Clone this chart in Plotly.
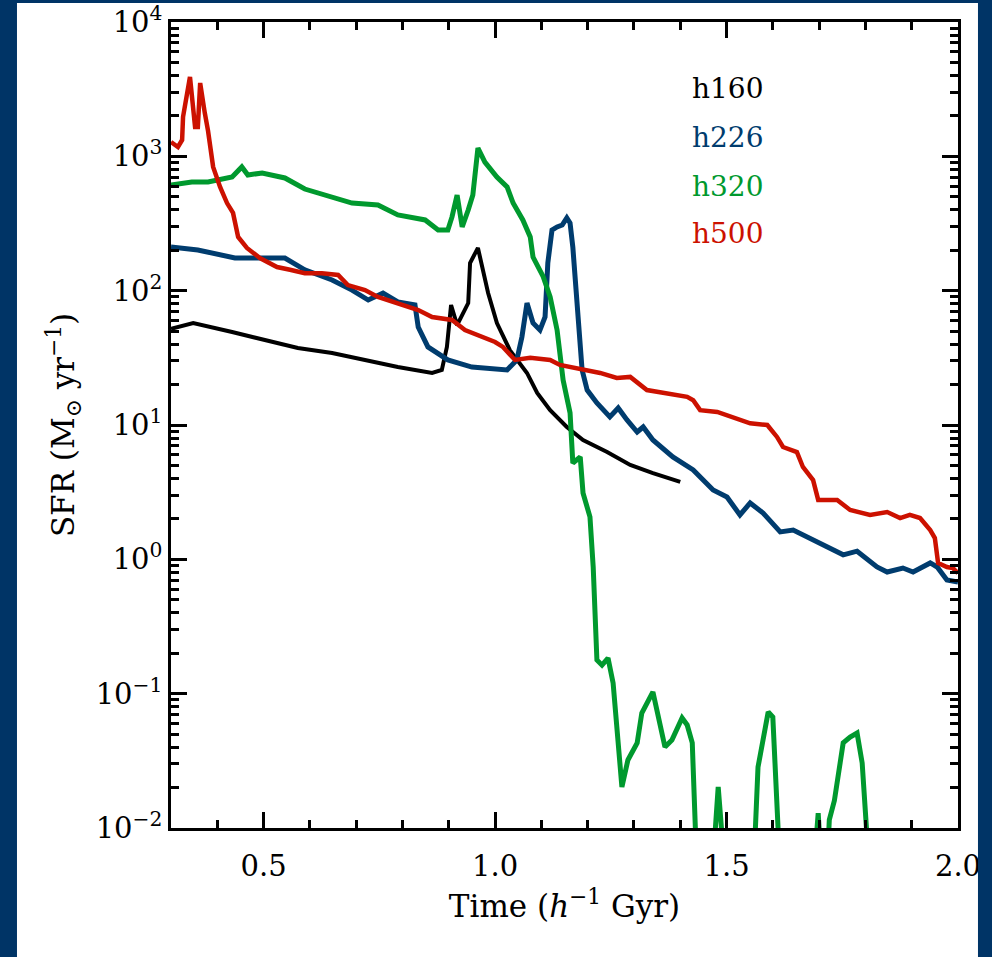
import plotly.graph_objects as go

# Star formation histories of four haloes
names = ["h160", "h226", "h320", "h500"]
colors = ["#000000", "#003c6e", "#00992e", "#cc1100"]
widths = [4, 5, 5, 4.5]

t_h160 = [0.300, 0.348, 0.432, 0.503, 0.574, 0.648, 0.719, 0.790, 0.864, 0.885,
          0.896, 0.905, 0.918, 0.942, 0.946, 0.963, 0.985, 1.004, 1.032, 1.069,
          1.091, 1.119, 1.155, 1.190, 1.242, 1.292, 1.341, 1.400]
sfr_h160 = [51.9, 57.4, 49.2, 43.0, 37.4, 34.4, 30.5, 27.0, 24.4, 25.7,
            38.1, 78.2, 55.4, 80.9, 160.7, 208, 96.1, 57.4, 36.1, 24.4,
            17.3, 12.9, 9.66, 7.73, 6.29, 5.04, 4.39, 3.77]

t_h226 = [0.300, 0.358, 0.438, 0.503, 0.546, 0.589, 0.648, 0.691, 0.726, 0.758,
          0.790, 0.827, 0.834, 0.855, 0.898, 0.950, 1.000, 1.026, 1.047, 1.058,
          1.069, 1.082, 1.097, 1.108, 1.114, 1.123, 1.134, 1.145, 1.155, 1.162,
          1.168, 1.179, 1.188, 1.199, 1.220, 1.248, 1.266, 1.285, 1.307, 1.320,
          1.341, 1.384, 1.428, 1.471, 1.501, 1.529, 1.551, 1.579, 1.616, 1.644,
          1.687, 1.717, 1.752, 1.782, 1.825, 1.847, 1.881, 1.903, 1.940, 1.955,
          1.976, 2.000]
sfr_h226 = [211, 201, 175, 175, 175, 143, 120, 101, 85.2, 96.1,
            82.4, 78.2, 53.6, 38.1, 30.5, 27.0, 26.5, 25.7, 30.5, 45.2,
            80.9, 57.4, 50.9, 63.7, 161, 283, 298, 308, 348, 319,
            211, 68.2, 25.7, 18.2, 14.6, 11.5, 13.4, 10.9, 8.87, 9.67,
            7.73, 5.78, 4.63, 3.28, 2.91, 2.14, 2.63, 2.21, 1.60, 1.65,
            1.39, 1.24, 1.08, 1.15, 0.877, 0.805, 0.862, 0.805, 0.94, 0.877,
            0.702, 0.678]

t_h320 = [0.300, 0.345, 0.380, 0.432, 0.453, 0.466, 0.497, 0.546, 0.589, 0.648,
          0.691, 0.747, 0.790, 0.849, 0.877, 0.898, 0.907, 0.918, 0.929, 0.942,
          0.952, 0.963, 0.978, 1.004, 1.026, 1.039, 1.060, 1.076, 1.082, 1.104,
          1.119, 1.134, 1.147, 1.162, 1.168, 1.184, 1.190, 1.205, 1.212, 1.220,
          1.231, 1.244, 1.255, 1.274, 1.287, 1.307, 1.317, 1.341, 1.367, 1.382,
          1.404, 1.415, 1.426, 1.440, 1.462, 1.482, 1.505, 1.550, 1.568, 1.590,
          1.600, 1.625, 1.680, 1.698, 1.712, 1.722, 1.733, 1.752, 1.767, 1.782,
          1.793, 1.808, 1.830]
sfr_h320 = [612, 644, 644, 702, 834, 726, 752, 690, 571, 498,
            449, 434, 366, 336, 283, 283, 354, 515, 298, 398,
            515, 1153, 907, 702, 592, 449, 336, 251, 178, 127,
            89.8, 50.9, 21.6, 12.3, 5.21, 5.78, 3.12, 2.07, 0.877, 0.178,
            0.163, 0.184, 0.120, 0.0202, 0.0321, 0.0430, 0.0718, 0.103, 0.0401, 0.0452,
            0.0659, 0.0585, 0.0430, 0.002, 0.002, 0.0202, 0.002, 0.001, 0.0284, 0.0730,
            0.0670, 0.001, 0.002, 0.0129, 0.002, 0.0115, 0.016, 0.043, 0.0475, 0.0509,
            0.0305, 0.005, 0.0001]

t_h500 = [0.300, 0.315, 0.324, 0.326, 0.341, 0.352, 0.358, 0.363, 0.373, 0.380,
          0.391, 0.406, 0.421, 0.434, 0.445, 0.464, 0.492, 0.529, 0.557, 0.589,
          0.626, 0.661, 0.682, 0.719, 0.747, 0.790, 0.834, 0.864, 0.907, 0.935,
          0.972, 1.000, 1.017, 1.043, 1.076, 1.119, 1.140, 1.177, 1.227, 1.263,
          1.292, 1.328, 1.363, 1.415, 1.428, 1.443, 1.480, 1.514, 1.551, 1.588,
          1.609, 1.622, 1.652, 1.665, 1.687, 1.698, 1.739, 1.767, 1.810, 1.847,
          1.875, 1.896, 1.918, 1.940, 1.950, 1.957, 1.976, 1.989, 2.000]
sfr_h500 = [1279, 1173, 1323, 1963, 3900, 1652, 1652, 3516, 2102, 1545,
            834, 592, 449, 379, 251, 208, 175, 150, 143, 135,
            135, 131, 110, 101, 89.8, 80.9, 71.8, 63.7, 60.5, 50.9,
            45.2, 41.5, 38.1, 30.5, 31.6, 30.5, 28.0, 26.6, 24.4, 22.4,
            22.8, 18.2, 17.3, 16.2, 15.3, 12.9, 12.5, 11.5, 10.3, 10.0,
            8.15, 6.86, 6.29, 4.87, 3.89, 2.77, 2.77, 2.33, 2.14, 2.25,
            2.03, 2.14, 2.03, 1.65, 1.44, 0.94, 0.877, 0.861, 0.79]

times = [t_h160, t_h226, t_h320, t_h500]
rates = [sfr_h160, sfr_h226, sfr_h320, sfr_h500]

x_ticks = [0.5, 1.0, 1.5, 2.0]
x_ticktext = ["0.5", "1.0", "1.5", "2.0"]
y_ticks = [1e-2, 1e-1, 1e0, 1e1, 1e2, 1e3, 1e4]
y_ticktext = ["10<sup>−2</sup>", "10<sup>−1</sup>", "10<sup>0</sup>", "10<sup>1</sup>",
              "10<sup>2</sup>", "10<sup>3</sup>", "10<sup>4</sup>"]

NAVY = "#003466"
FONT = "DejaVu Serif"

fig = go.Figure()
for t, s, n, c, w in zip(times, rates, names, colors, widths):
    fig.add_trace(go.Scatter(x=t, y=s, mode="lines", name=n,
                             line=dict(color=c, width=w), showlegend=False))

# Colored series labels in the upper right
label_y = [0.917, 0.857, 0.7965, 0.737]
for n, c, yy in zip(names, colors, label_y):
    fig.add_annotation(text=n, xref="paper", yref="paper", x=0.6595, y=yy,
                       xanchor="left", yanchor="middle", showarrow=False,
                       font=dict(family=FONT, size=28, color=c))

axis_common = dict(
    showline=True, linecolor="black", linewidth=2.5, mirror="allticks",
    ticks="inside", tickwidth=2.5, tickcolor="black", ticklen=16,
    showgrid=False, zeroline=False, automargin=False,
    tickfont=dict(family=FONT, size=29, color="black"),
)

fig.update_xaxes(
    range=[0.3, 2.0], tickvals=x_ticks, ticktext=x_ticktext,
    ticklabelstandoff=10,
    minor=dict(ticks="inside", ticklen=8, tickwidth=2.5, tickcolor="black", dtick=0.1, tick0=0.0, showgrid=False),
    title=dict(text="Time (<i>h</i><sup>−1</sup> Gyr)", font=dict(family=FONT, size=31, color="black"), standoff=14),
    **axis_common,
)
fig.update_yaxes(
    type="log", range=[-2, 4], tickvals=y_ticks, ticktext=y_ticktext,
    minor=dict(ticks="inside", ticklen=8, tickwidth=2.5, tickcolor="black", dtick="D1", showgrid=False),
    title=dict(text="SFR (M<sub>⊙</sub> yr<sup>−1</sup>)", font=dict(family=FONT, size=31, color="black"), standoff=12),
    **axis_common,
)

# White panel on the navy page, and the navy strip trimming the right edge
fig.add_shape(type="rect", xref="paper", yref="paper", x0=-0.1957, x1=1.0254, y0=-0.3, y1=1.0236,
              fillcolor="white", line=dict(width=0), layer="below")
fig.add_shape(type="rect", xref="paper", yref="paper", x0=1.0254, x1=1.2, y0=-0.3, y1=1.2,
              fillcolor=NAVY, line=dict(width=0), layer="above")

fig.update_layout(
    width=992, height=957,
    margin=dict(l=171, r=34, t=22, b=129),
    paper_bgcolor=NAVY, plot_bgcolor="white",
    font=dict(family=FONT, color="black"),
)

fig.write_html("out.html")
